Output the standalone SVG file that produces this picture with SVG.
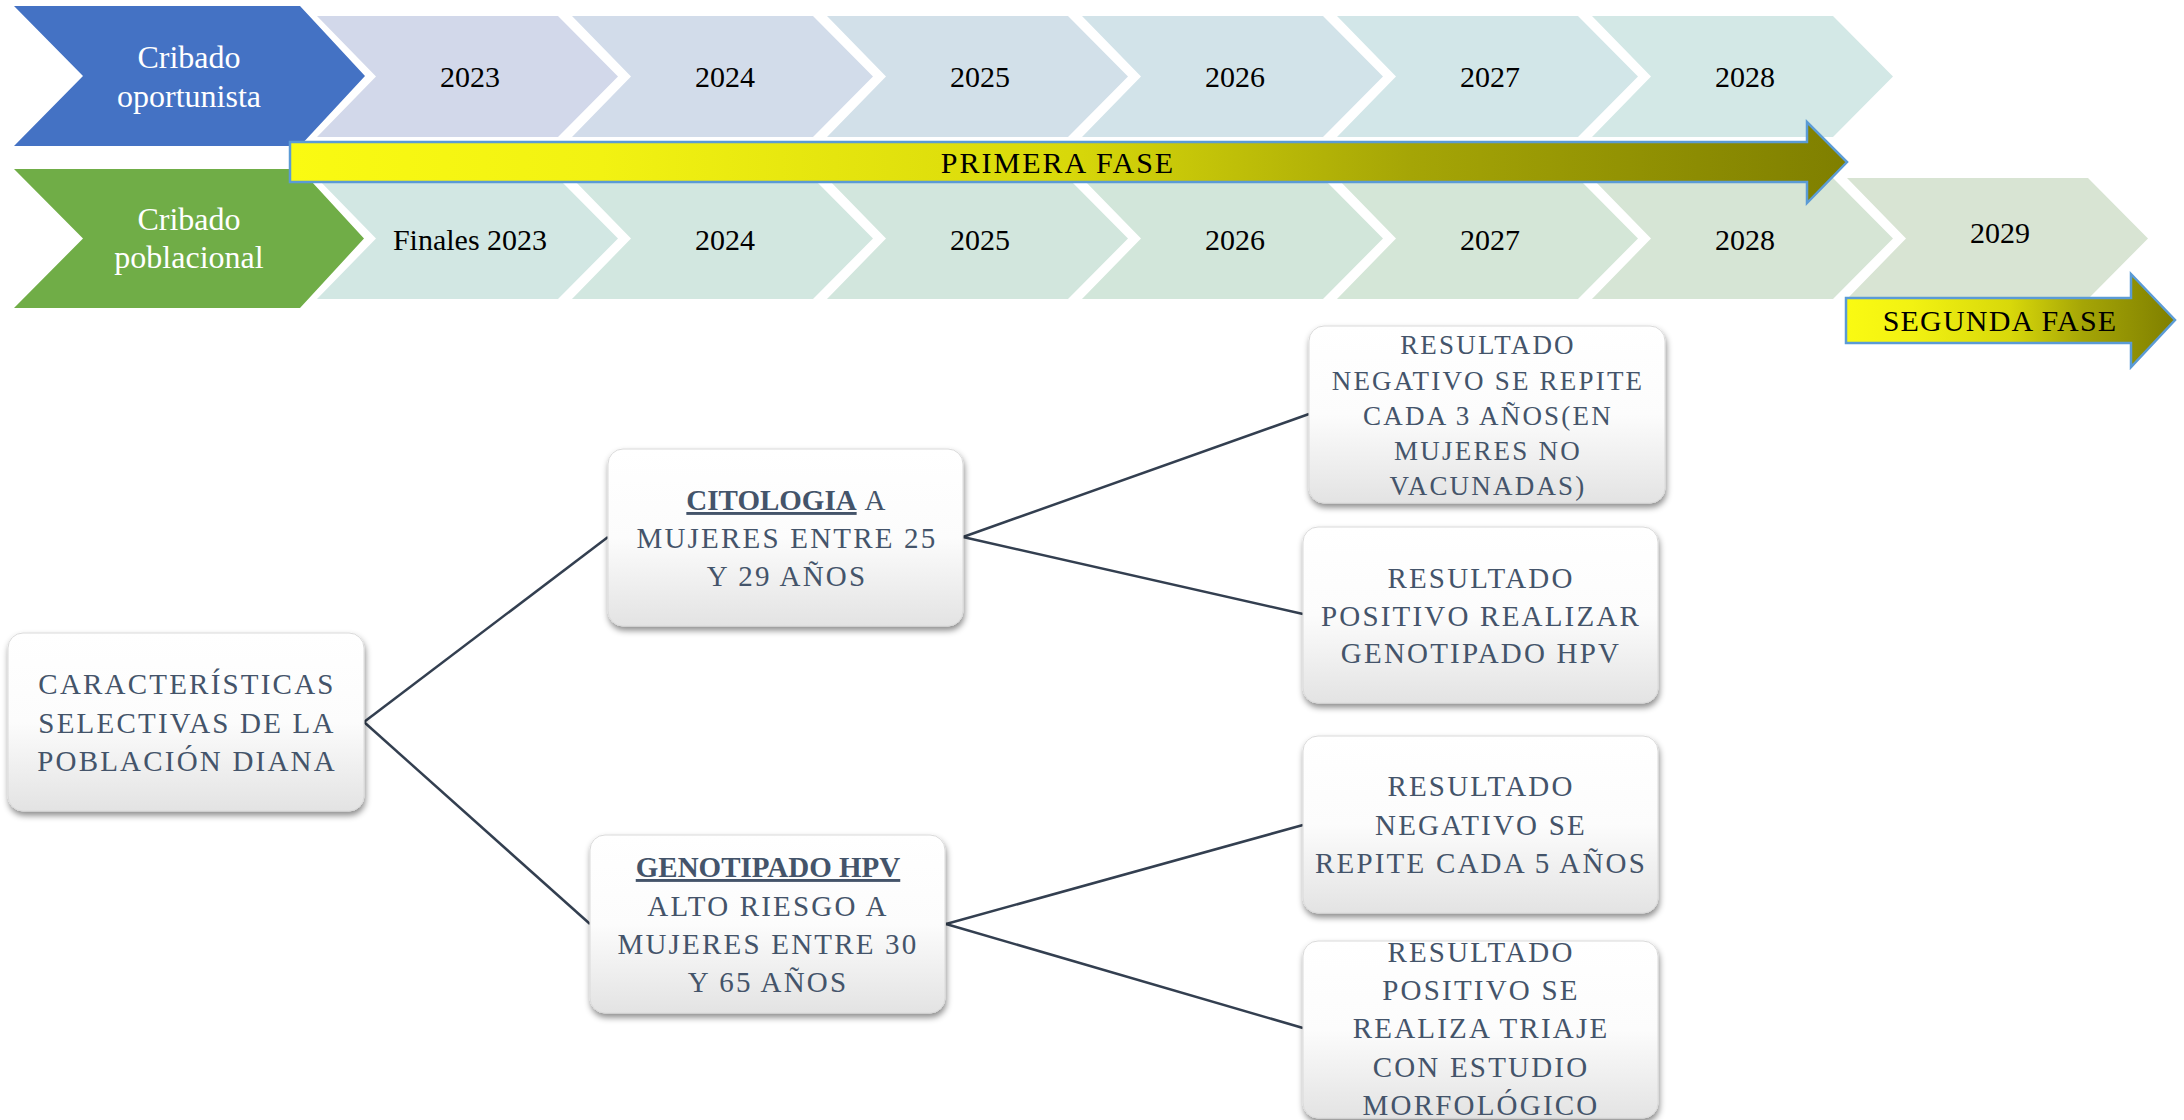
<svg xmlns="http://www.w3.org/2000/svg" width="2184" height="1120" viewBox="0 0 2184 1120">
  <defs>
    <linearGradient id="fase" x1="0" y1="0" x2="1" y2="0">
      <stop offset="0" stop-color="#FAFA12"/>
      <stop offset="0.2" stop-color="#F2F212"/>
      <stop offset="0.5" stop-color="#D8D80A"/>
      <stop offset="0.72" stop-color="#A5A506"/>
      <stop offset="1" stop-color="#7F7F00"/>
    </linearGradient>
    <linearGradient id="boxfill" x1="0" y1="0" x2="0" y2="1">
      <stop offset="0" stop-color="#FFFFFF"/>
      <stop offset="0.5" stop-color="#FCFCFC"/>
      <stop offset="1" stop-color="#E3E3E3"/>
    </linearGradient>
    <filter id="shadow" x="-10%" y="-10%" width="125%" height="130%">
      <feDropShadow dx="1" dy="4" stdDeviation="3" flood-color="#000" flood-opacity="0.45"/>
    </filter>
    <style>
      .lbl { font-family: "Liberation Serif", "DejaVu Serif", serif; font-size: 32px; fill: #FFFFFF; text-anchor: middle; }
      .yr { font-family: "Liberation Serif", "DejaVu Serif", serif; font-size: 30px; fill: #000000; text-anchor: middle; }
      .fase { font-family: "Liberation Serif", "DejaVu Serif", serif; font-size: 30px; fill: #000000; text-anchor: middle; }
      .arrow { fill: url(#fase); stroke: #5B9BD5; stroke-width: 2.5; }
      .box { fill: url(#boxfill); stroke: #DADADA; stroke-width: 1; filter: url(#shadow); }
      .bt { font-family: "Liberation Serif", "DejaVu Serif", serif; font-size: 29px; fill: #44546A; text-anchor: middle; letter-spacing: 2.2px; }
      .bt4 { font-size: 27px; }
      .b { font-weight: bold; letter-spacing: 0; text-decoration: underline; }
      .conn line { stroke: #333F50; stroke-width: 2.5; }
    </style>
  </defs>
  <rect width="2184" height="1120" fill="#FFFFFF"/>

  <!-- Row 1 -->
  <g id="cribado-oportunista">
    <polygon points="14,6 300,6 365,76 300,146 14,146 83,76" fill="#4472C4"/>
    <text class="lbl" x="189" y="68">Cribado</text>
    <text class="lbl" x="189" y="107">oportunista</text>
  </g>
  <g id="r1-2023">
    <polygon points="317,16 558,16 618,76.5 558,137 317,137 376,76.5" fill="#D2D8EA"/>
    <text class="yr" x="470" y="87">2023</text>
  </g>
  <g id="r1-2024">
    <polygon points="572,16 813,16 873,76.5 813,137 572,137 631,76.5" fill="#D2DCEA"/>
    <text class="yr" x="725" y="87">2024</text>
  </g>
  <g id="r1-2025">
    <polygon points="827,16 1068,16 1128,76.5 1068,137 827,137 886,76.5" fill="#D2E0E9"/>
    <text class="yr" x="980" y="87">2025</text>
  </g>
  <g id="r1-2026">
    <polygon points="1082,16 1323,16 1383,76.5 1323,137 1082,137 1141,76.5" fill="#D2E3E9"/>
    <text class="yr" x="1235" y="87">2026</text>
  </g>
  <g id="r1-2027">
    <polygon points="1337,16 1578,16 1638,76.5 1578,137 1337,137 1396,76.5" fill="#D2E6E8"/>
    <text class="yr" x="1490" y="87">2027</text>
  </g>
  <g id="r1-2028">
    <polygon points="1592,16 1833,16 1893,76.5 1833,137 1592,137 1651,76.5" fill="#D3E8E6"/>
    <text class="yr" x="1745" y="87">2028</text>
  </g>

  <!-- Row 2 -->
  <g id="cribado-poblacional">
    <polygon points="14,169 300,169 364,238.5 300,308 14,308 83,238.5" fill="#70AD47"/>
    <text class="lbl" x="189" y="230">Cribado</text>
    <text class="lbl" x="189" y="268">poblacional</text>
  </g>
  <g id="r2-2023">
    <polygon points="317,178 558,178 618,238.5 558,299 317,299 376,238.5" fill="#D2E7E3"/>
    <text class="yr" x="470" y="249.5">Finales 2023</text>
  </g>
  <g id="r2-2024">
    <polygon points="572,178 813,178 873,238.5 813,299 572,299 631,238.5" fill="#D2E7E0"/>
    <text class="yr" x="725" y="249.5">2024</text>
  </g>
  <g id="r2-2025">
    <polygon points="827,178 1068,178 1128,238.5 1068,299 827,299 886,238.5" fill="#D2E6DD"/>
    <text class="yr" x="980" y="249.5">2025</text>
  </g>
  <g id="r2-2026">
    <polygon points="1082,178 1323,178 1383,238.5 1323,299 1082,299 1141,238.5" fill="#D2E6DA"/>
    <text class="yr" x="1235" y="249.5">2026</text>
  </g>
  <g id="r2-2027">
    <polygon points="1337,178 1578,178 1638,238.5 1578,299 1337,299 1396,238.5" fill="#D4E6D7"/>
    <text class="yr" x="1490" y="249.5">2027</text>
  </g>
  <g id="r2-2028">
    <polygon points="1592,178 1833,178 1893,238.5 1833,299 1592,299 1651,238.5" fill="#D6E5D5"/>
    <text class="yr" x="1745" y="249.5">2028</text>
  </g>
  <g id="r2-2029">
    <polygon points="1847,178 2088,178 2148,238.5 2088,299 1847,299 1906,238.5" fill="#D8E4D3"/>
    <text class="yr" x="2000" y="243">2029</text>
  </g>

  <!-- Phase arrows -->
  <g id="primera-fase">
    <polygon class="arrow" points="290,142 1807,142 1807,122 1847,162 1807,203 1807,182 290,182"/>
    <text class="fase" x="1058" y="173" letter-spacing="2">PRIMERA FASE</text>
  </g>
  <g id="segunda-fase">
    <polygon class="arrow" points="1846,298 2131,298 2131,274 2175,320 2131,367 2131,343 1846,343"/>
    <text class="fase" x="2000" y="331" letter-spacing="1.2">SEGUNDA FASE</text>
  </g>

  <!-- Connectors -->
  <g id="connectors" class="conn">
    <line x1="364" y1="722" x2="608" y2="537"/>
    <line x1="364" y1="722" x2="590" y2="924"/>
    <line x1="963" y1="537" x2="1309" y2="414"/>
    <line x1="963" y1="537" x2="1303" y2="614"/>
    <line x1="946" y1="924" x2="1303" y2="825"/>
    <line x1="946" y1="924" x2="1303" y2="1028"/>
  </g>

  <!-- Boxes -->
  <g id="caracteristicas">
    <rect class="box" x="8" y="633" width="356" height="178" rx="15"/>
    <text class="bt" x="187" y="694">CARACTERÍSTICAS</text>
    <text class="bt" x="187" y="733">SELECTIVAS DE LA</text>
    <text class="bt" x="187" y="771">POBLACIÓN DIANA</text>
  </g>
  <g id="citologia">
    <rect class="box" x="608" y="449" width="355" height="177" rx="15"/>
    <text class="bt" x="787" y="510"><tspan class="b">CITOLOGIA</tspan> A</text>
    <text class="bt" x="787" y="548">MUJERES ENTRE 25</text>
    <text class="bt" x="787" y="586">Y 29 AÑOS</text>
  </g>
  <g id="genotipado">
    <rect class="box" x="590" y="835" width="355" height="178" rx="15"/>
    <text class="bt" x="768" y="877"><tspan class="b">GENOTIPADO HPV</tspan></text>
    <text class="bt" x="768" y="916">ALTO RIESGO A</text>
    <text class="bt" x="768" y="954">MUJERES ENTRE 30</text>
    <text class="bt" x="768" y="992">Y 65 AÑOS</text>
  </g>
  <g id="cito-negativo">
    <rect class="box" x="1309" y="326" width="356" height="177" rx="15"/>
    <text class="bt bt4" x="1488" y="354">RESULTADO</text>
    <text class="bt bt4" x="1488" y="390">NEGATIVO SE REPITE</text>
    <text class="bt bt4" x="1488" y="425">CADA 3 AÑOS(EN</text>
    <text class="bt bt4" x="1488" y="460">MUJERES NO</text>
    <text class="bt bt4" x="1488" y="495">VACUNADAS)</text>
  </g>
  <g id="cito-positivo">
    <rect class="box" x="1303" y="527" width="355" height="176" rx="15"/>
    <text class="bt" x="1481" y="588">RESULTADO</text>
    <text class="bt" x="1481" y="626">POSITIVO REALIZAR</text>
    <text class="bt" x="1481" y="663">GENOTIPADO HPV</text>
  </g>
  <g id="hpv-negativo">
    <rect class="box" x="1303" y="736" width="355" height="177" rx="15"/>
    <text class="bt" x="1481" y="796">RESULTADO</text>
    <text class="bt" x="1481" y="835">NEGATIVO SE</text>
    <text class="bt" x="1481" y="873">REPITE CADA 5 AÑOS</text>
  </g>
  <g id="hpv-positivo">
    <rect class="box" x="1303" y="941" width="355" height="177" rx="15"/>
    <text class="bt" x="1481" y="962">RESULTADO</text>
    <text class="bt" x="1481" y="1000">POSITIVO SE</text>
    <text class="bt" x="1481" y="1038">REALIZA TRIAJE</text>
    <text class="bt" x="1481" y="1077">CON ESTUDIO</text>
    <text class="bt" x="1481" y="1115">MORFOLÓGICO</text>
  </g>
</svg>
